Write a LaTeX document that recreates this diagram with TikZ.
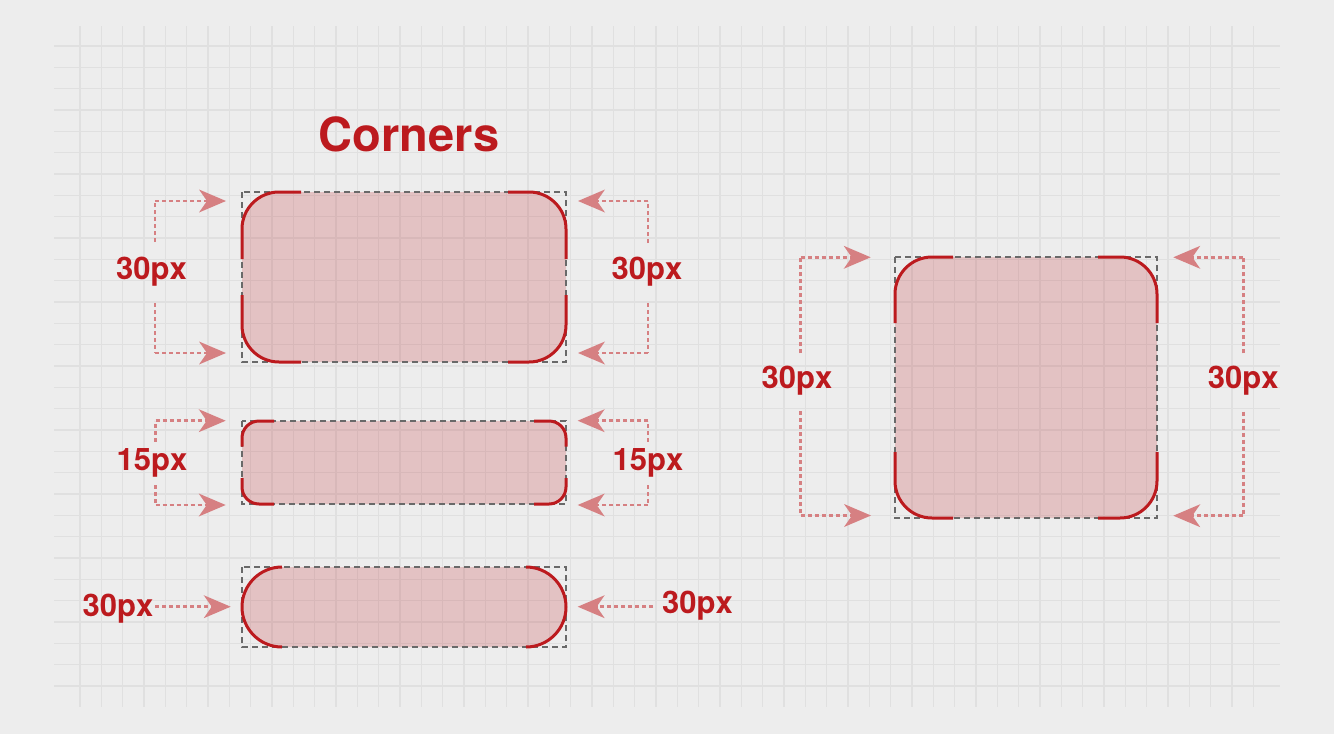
\documentclass[tikz,border=0pt]{standalone}
\usepackage{fontspec}
\setmainfont{TeX Gyre Heros}
\usetikzlibrary{arrows.meta}
\definecolor{bgc}{RGB}{237,237,237}
\definecolor{gridc}{RGB}{224,224,224}
\definecolor{redc}{RGB}{188,26,30}
\definecolor{arrc}{RGB}{214,128,130}
\definecolor{dashc}{RGB}{105,105,105}
\tikzset{
  gridline/.style={draw=gridc,line width=1.4pt},
  boxfill/.style={fill=redc,fill opacity=0.2},
  bound/.style={draw=dashc,line width=1.2pt,dash pattern=on 6pt off 4pt},
  corner/.style={draw=redc,line width=3pt},
  dimarrow/.style={draw=arrc,line width=2.8pt,dash pattern=on 4pt off 3pt,
    -{Stealth[length=27pt,width=23pt,inset=8pt,fill=arrc,line width=0pt]}},
  dimline/.style={draw=arrc,line width=2.8pt,dash pattern=on 4pt off 3pt},
  lbl/.style={text=redc,font=\fontsize{31}{31}\selectfont\bfseries,anchor=base,inner sep=0pt},
  ttl/.style={text=redc,font=\fontsize{47}{47}\selectfont\bfseries,anchor=base,inner sep=0pt}
}
\begin{document}
\begin{tikzpicture}[x=1pt,y=-1pt]
\useasboundingbox (0,0) rectangle (1334,734);
\fill[bgc] (0,0) rectangle (1334,734);
% grid
\foreach \k in {0,...,55} \draw[gridline] ({80+\k*64/3},26) -- ({80+\k*64/3},707);
\foreach \k in {0,...,30} \draw[gridline] (54,{46+\k*64/3}) -- (1280,{46+\k*64/3});

% title
\node[ttl] (title) at (409,151.7) {Corners};

% ---- Box A
\fill[boxfill,rounded corners=37pt] (242,192) rectangle (566,362);
\draw[bound] (242,192) rectangle (566,362);
\draw[corner,rounded corners=37pt] (242,259) -- (242,192) -- (301,192);
\draw[corner,rounded corners=37pt] (508,192) -- (566,192) -- (566,259);
\draw[corner,rounded corners=37pt] (566,295) -- (566,362) -- (508,362);
\draw[corner,rounded corners=37pt] (301,362) -- (242,362) -- (242,295);
\coordinate (a1s) at (155,242); \coordinate (a1m) at (155,201); \coordinate (a1t) at (226,201);
\coordinate (a2s) at (155,303); \coordinate (a2m) at (155,353); \coordinate (a2t) at (226,353);
\coordinate (a3s) at (648,243); \coordinate (a3m) at (648,201); \coordinate (a3t) at (578,201);
\coordinate (a4s) at (648,303); \coordinate (a4m) at (648,353); \coordinate (a4t) at (578,353);
\draw[dimline] (a1s) -- (a1m); \draw[dimarrow] (a1m) -- (a1t);
\draw[dimline] (a2s) -- (a2m); \draw[dimarrow] (a2m) -- (a2t);
\draw[dimline] (a3s) -- (a3m); \draw[dimarrow] (a3m) -- (a3t);
\draw[dimline] (a4s) -- (a4m); \draw[dimarrow] (a4m) -- (a4t);
\node[lbl] (la1) at (151.5,279) {30px};
\node[lbl] (la2) at (647,279) {30px};

% ---- Box B
\fill[boxfill,rounded corners=17pt] (242,421) rectangle (566,504);
\draw[bound] (242,421) rectangle (566,504);
\draw[corner,rounded corners=17pt] (242,446.5) -- (242,421) -- (274,421);
\draw[corner,rounded corners=17pt] (534,421) -- (566,421) -- (566,446.5);
\draw[corner,rounded corners=17pt] (566,478) -- (566,504) -- (534,504);
\draw[corner,rounded corners=17pt] (274,504) -- (242,504) -- (242,478);
\coordinate (b1s) at (155.7,441.7); \coordinate (b1m) at (155.7,420.7); \coordinate (b1t) at (225.7,420.7);
\coordinate (b2s) at (155.7,485); \coordinate (b2m) at (155.7,505); \coordinate (b2t) at (225.7,505);
\coordinate (b3s) at (648,441.7); \coordinate (b3m) at (648,420.7); \coordinate (b3t) at (577.7,420.7);
\coordinate (b4s) at (648,485); \coordinate (b4m) at (648,505); \coordinate (b4t) at (577.7,505);
\draw[dimline] (b1s) -- (b1m); \draw[dimarrow] (b1m) -- (b1t);
\draw[dimline] (b2s) -- (b2m); \draw[dimarrow] (b2m) -- (b2t);
\draw[dimline] (b3s) -- (b3m); \draw[dimarrow] (b3m) -- (b3t);
\draw[dimline] (b4s) -- (b4m); \draw[dimarrow] (b4m) -- (b4t);
\node[lbl] (lb1) at (152,470.7) {15px};
\node[lbl] (lb2) at (648,470.7) {15px};

% ---- Box C (pill)
\fill[boxfill] (282,567) -- (526,567) arc[start angle=-90,end angle=90,radius=40]
  -- (282,647) arc[start angle=90,end angle=270,radius=40] -- cycle;
\draw[bound] (242,567) rectangle (566,647);
\draw[corner] (282,567) arc[start angle=-90,end angle=-270,radius=40];
\draw[corner] (526,567) arc[start angle=-90,end angle=90,radius=40];
\coordinate (c1s) at (155,606.7); \coordinate (c1t) at (230.7,606.7);
\coordinate (c2s) at (653,606.7); \coordinate (c2t) at (577.7,606.7);
\draw[dimarrow] (c1s) -- (c1t);
\draw[dimarrow] (c2s) -- (c2t);
\node[lbl] (lc1) at (118,616.7) {30px};
\node[lbl] (lc2) at (697.5,613.3) {30px};

% ---- Box D
\fill[boxfill,rounded corners=37pt] (895,257) rectangle (1157,518);
\draw[bound] (895,257) rectangle (1157,518);
\draw[corner,rounded corners=37pt] (895,323) -- (895,257) -- (953,257);
\draw[corner,rounded corners=37pt] (1098,257) -- (1157,257) -- (1157,323);
\draw[corner,rounded corners=37pt] (1157,452) -- (1157,518) -- (1098,518);
\draw[corner,rounded corners=37pt] (953,518) -- (895,518) -- (895,452);
\coordinate (d1s) at (800.7,353.3); \coordinate (d1m) at (800.7,257.3); \coordinate (d1t) at (870.7,257.3);
\coordinate (d2s) at (800.7,411); \coordinate (d2m) at (800.7,515.5); \coordinate (d2t) at (871,515.5);
\coordinate (d3s) at (1243.3,353.3); \coordinate (d3m) at (1243.3,257.3); \coordinate (d3t) at (1173.3,257.3);
\coordinate (d4s) at (1243.3,411.7); \coordinate (d4m) at (1243.3,515.7); \coordinate (d4t) at (1173.3,515.7);
\draw[dimline] (d1s) -- (d1m); \draw[dimarrow] (d1m) -- (d1t);
\draw[dimline] (d2s) -- (d2m); \draw[dimarrow] (d2m) -- (d2t);
\draw[dimline] (d3s) -- (d3m); \draw[dimarrow] (d3m) -- (d3t);
\draw[dimline] (d4s) -- (d4m); \draw[dimarrow] (d4m) -- (d4t);
\node[lbl] (ld1) at (797,388) {30px};
\node[lbl] (ld2) at (1243.3,388.3) {30px};
\end{tikzpicture}
\end{document}
